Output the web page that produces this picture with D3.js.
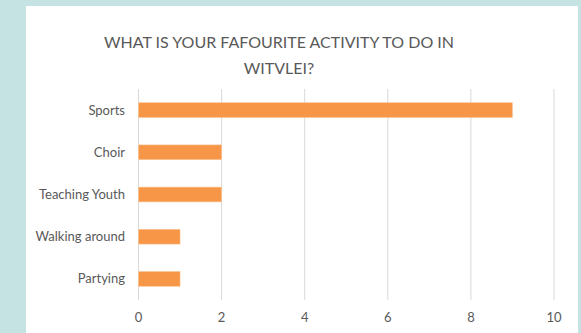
<!DOCTYPE html>
<html lang="en">
<head>
  <meta charset="UTF-8">
  <title>What is your fafourite activity to do in Witvlei?</title>
  <style>
    body { margin: 0; background: #c5e3e2; }
    svg { display: block; font-family: Lato, "Open Sans", sans-serif; }
  </style>
  <script src="https://d3js.org/d3.v7.min.js"></script>
</head>
<body>
  <div id="chart"></div>
  <script>
    const activities = ["Sports", "Choir", "Teaching Youth", "Walking around", "Partying"];
    const counts = [9, 2, 2, 1, 1];
    const xTicks = [0, 2, 4, 6, 8, 10];
    const titleLines = ["WHAT IS YOUR FAFOURITE ACTIVITY TO DO IN", "WITVLEI?"];

    const svg = d3.select("#chart")
      .append("svg")
      .attr("width", 581)
      .attr("height", 333);

    // white chart panel
    svg.append("rect")
      .attr("x", 26)
      .attr("y", 6)
      .attr("width", 552)
      .attr("height", 340)
      .attr("fill", "#ffffff");

    const x = d3.scaleLinear().domain([0, 10]).range([138.5, 554]);
    const y = d3.scaleBand()
      .domain(activities)
      .range([89, 300])
      .paddingInner(0.65)
      .paddingOuter(0.325);

    // gridlines
    svg.append("g")
      .selectAll("line")
      .data(xTicks)
      .join("line")
      .attr("x1", d => x(d))
      .attr("x2", d => x(d))
      .attr("y1", 89)
      .attr("y2", 300)
      .attr("stroke", "#d9d9d9")
      .attr("stroke-width", 1);

    // bars
    svg.append("g")
      .selectAll("rect")
      .data(activities)
      .join("rect")
      .attr("x", x(0))
      .attr("y", d => y(d))
      .attr("width", (d, i) => x(counts[i]) - x(0))
      .attr("height", y.bandwidth())
      .attr("fill", "#f79646")
      .attr("stroke", "#fbc597")
      .attr("stroke-width", 0.6);

    // category labels
    svg.append("g")
      .selectAll("text")
      .data(activities)
      .join("text")
      .attr("x", 125)
      .attr("y", d => y(d) + y.bandwidth() / 2)
      .attr("dy", "0.35em")
      .attr("text-anchor", "end")
      .attr("fill", "#595959")
      .style("font-size", "13px")
      .text(d => d);

    // x tick labels
    svg.append("g")
      .selectAll("text")
      .data(xTicks)
      .join("text")
      .attr("x", d => x(d))
      .attr("y", 322)
      .attr("text-anchor", "middle")
      .attr("fill", "#595959")
      .style("font-size", "13px")
      .text(d => d);

    // title
    svg.append("g")
      .selectAll("text")
      .data(titleLines)
      .join("text")
      .attr("x", 279)
      .attr("y", (d, i) => 48 + i * 26)
      .attr("text-anchor", "middle")
      .attr("fill", "#595959")
      .style("font-size", "16px")
      .text(d => d);
  </script>
</body>
</html>
